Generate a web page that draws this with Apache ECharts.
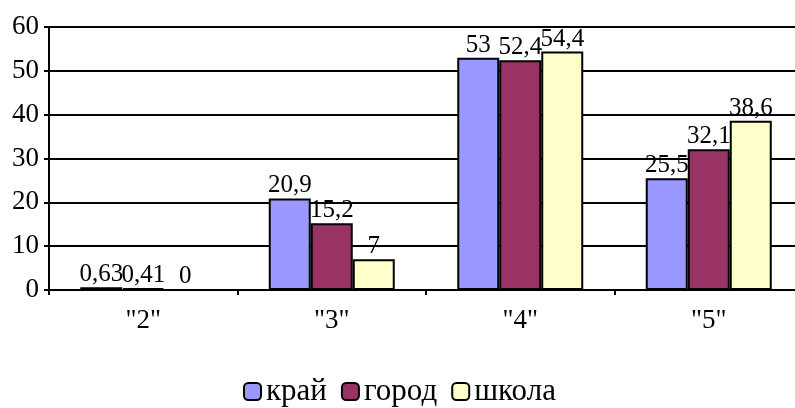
<!DOCTYPE html>
<html>
<head>
<meta charset="utf-8">
<script src="https://cdn.jsdelivr.net/npm/echarts@6/dist/echarts.min.js"></script>
<style>html,body{margin:0;padding:0;background:#fff;overflow:hidden}#chart{width:812px;height:408px}</style>
</head>
<body>
<div id="chart"></div>
<script>
var font = "Liberation Serif";
var cats = ['"2"', '"3"', '"4"', '"5"'];
var data = {
    "край": [0.63, 20.9, 53, 25.5],
    "город": [0.41, 15.2, 52.4, 32.1],
    "школа": [0, 7, 54.4, 38.6]
};
var colors = {"край": "#9999FF", "город": "#993366", "школа": "#FFFFCC"};

var series = Object.keys(data).map(function(name) {
    return {
        name: name, type: "bar", data: data[name],
        barGap: 0, barWidth: 42,
        itemStyle: {color: colors[name], borderColor: "#000", borderWidth: 2},
        label: {
            show: true, position: "top", distance: 0,
            fontFamily: font, fontSize: 25, color: "#000",
            formatter: function(p) { return String(p.value).replace(".", ","); }
        }
    };
});

// the plot runs past the right edge of the 795px window, so the div is wider
var chart = echarts.init(document.getElementById("chart"));
chart.setOption({
    animation: false,
    grid: {left: 49, top: 27, width: 754, height: 263, containLabel: false},
    legend: {
        top: 376, left: 243, padding: 0, itemWidth: 17, itemHeight: 17, itemGap: 14,
        textStyle: {fontFamily: font, fontSize: 31, color: "#000"},
        itemStyle: {borderColor: "#000", borderWidth: 2}
    },
    xAxis: {
        type: "category", data: cats,
        axisLine: {lineStyle: {color: "#000", width: 2}},
        axisTick: {show: true, length: 5, lineStyle: {color: "#000", width: 2}},
        axisLabel: {fontFamily: font, fontSize: 27, color: "#000", margin: 17}
    },
    yAxis: {
        type: "value", min: 0, max: 60, interval: 10,
        axisLine: {show: true, lineStyle: {color: "#000", width: 2}},
        axisTick: {show: true, length: 5, lineStyle: {color: "#000", width: 2}},
        axisLabel: {fontFamily: font, fontSize: 27, color: "#000", margin: 10},
        splitLine: {lineStyle: {color: "#000", width: 2}}
    },
    series: series
});
</script>
</body>
</html>
